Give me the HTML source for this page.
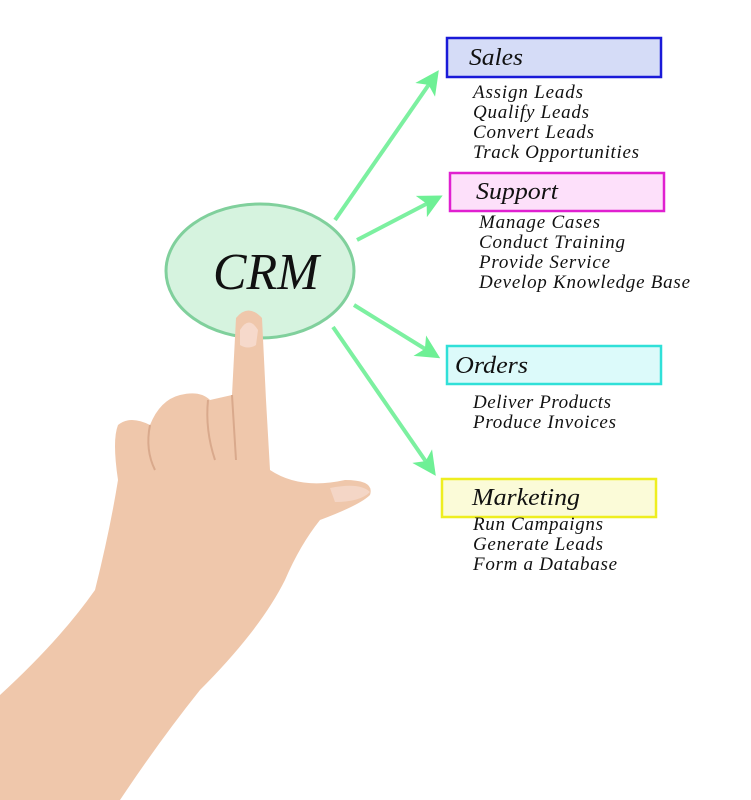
<!DOCTYPE html>
<html><head><style>html,body{margin:0;padding:0;background:#fff}svg{display:block}</style></head>
<body>
<svg width="751" height="800" viewBox="0 0 751 800" xmlns="http://www.w3.org/2000/svg" font-family="Liberation Serif, serif" font-style="italic">
<defs>
<marker id="a" markerWidth="6" markerHeight="6" refX="3" refY="3" orient="auto" markerUnits="strokeWidth"><path d="M0,0 L6,3 L0,6 L1.5,3 z" fill="#6ef095"/></marker>
</defs>
<g stroke="#7cf0a0" stroke-width="4" marker-end="url(#a)">
<line x1="335" y1="220" x2="432" y2="80"/>
<line x1="357" y1="240" x2="432" y2="201"/>
<line x1="354" y1="305" x2="430" y2="352"/>
<line x1="333" y1="327" x2="429" y2="466"/>
</g>
<ellipse cx="260" cy="271" rx="94" ry="67" fill="#d6f3df" stroke="#80d09c" stroke-width="3"/>
<text x="213" y="289" font-size="52" fill="#111" textLength="106" lengthAdjust="spacingAndGlyphs">CRM</text>
<!-- hand -->
<path d="M236,318 Q248,303 262,318 L266,400 L270,470 Q300,490 345,480 Q375,480 370,495 Q360,505 320,520 Q300,545 285,580 Q260,630 200,690 Q160,740 120,800 L0,800 L0,695 Q60,640 95,590 Q110,530 118,480 Q112,440 118,425 Q130,415 150,425 Q160,400 180,395 Q200,390 210,400 L232,395 Z" fill="#efc7ab"/>
<path d="M240,330 Q249,315 258,330 L256,345 Q248,350 240,345 Z" fill="#f6d9cb"/>
<path d="M330,488 Q360,482 370,492 Q360,502 335,502 Z" fill="#f4d6c6"/>
<path d="M150,425 Q145,450 155,470 M208,400 Q205,430 215,460 M232,395 L236,460" stroke="#d9a98c" stroke-width="2" fill="none"/>
<!-- boxes -->
<rect x="447" y="38" width="214" height="39" fill="#d5dcf7" stroke="#1a1ad8" stroke-width="2.5"/>
<text x="469" y="65" font-size="24" fill="#111" textLength="54" lengthAdjust="spacingAndGlyphs">Sales</text>
<g font-size="19" fill="#111" lengthAdjust="spacingAndGlyphs">
<text x="473" y="98" textLength="110">Assign Leads</text>
<text x="473" y="118" textLength="116">Qualify Leads</text>
<text x="473" y="138" textLength="121">Convert Leads</text>
<text x="473" y="158" textLength="166">Track Opportunities</text>
</g>
<rect x="450" y="173" width="214" height="38" fill="#fde0fa" stroke="#e020d0" stroke-width="2.5"/>
<text x="476" y="199" font-size="24" fill="#111" textLength="82" lengthAdjust="spacingAndGlyphs">Support</text>
<g font-size="19" fill="#111" lengthAdjust="spacingAndGlyphs">
<text x="479" y="228" textLength="121">Manage Cases</text>
<text x="479" y="248" textLength="146">Conduct Training</text>
<text x="479" y="268" textLength="131">Provide Service</text>
<text x="479" y="288" textLength="211">Develop Knowledge Base</text>
</g>
<rect x="447" y="346" width="214" height="38" fill="#dcfafa" stroke="#30e0d8" stroke-width="2.5"/>
<text x="455" y="373" font-size="24" fill="#111" textLength="73" lengthAdjust="spacingAndGlyphs">Orders</text>
<g font-size="19" fill="#111" lengthAdjust="spacingAndGlyphs">
<text x="473" y="408" textLength="138">Deliver Products</text>
<text x="473" y="428" textLength="143">Produce Invoices</text>
</g>
<rect x="442" y="479" width="214" height="38" fill="#fbfbd8" stroke="#eeee20" stroke-width="2.5"/>
<text x="472" y="505" font-size="24" fill="#111" textLength="108" lengthAdjust="spacingAndGlyphs">Marketing</text>
<g font-size="19" fill="#111" lengthAdjust="spacingAndGlyphs">
<text x="473" y="530" textLength="130">Run Campaigns</text>
<text x="473" y="550" textLength="130">Generate Leads</text>
<text x="473" y="570" textLength="144">Form a Database</text>
</g>
</svg>
</body></html>
